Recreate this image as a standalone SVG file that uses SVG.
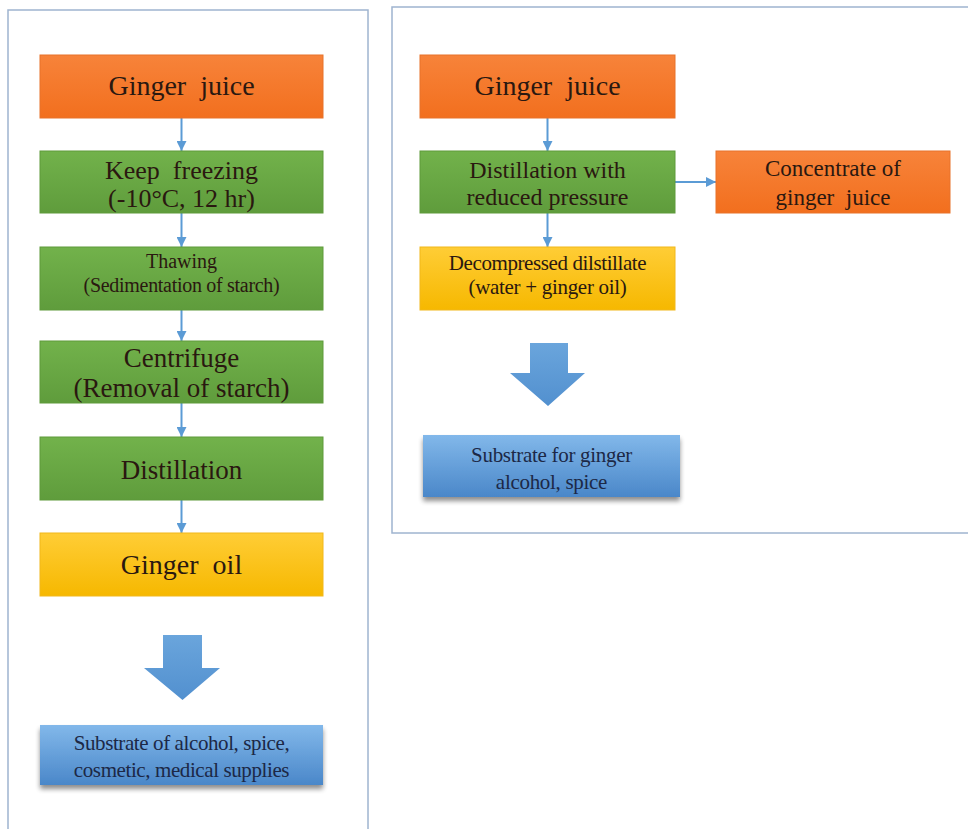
<svg xmlns="http://www.w3.org/2000/svg" width="968" height="829" viewBox="0 0 968 829" font-family="'Liberation Serif', 'Times New Roman', 'DejaVu Serif', serif">
<style>
text{text-anchor:middle;fill:#2a1810}
.blue text{fill:#1c2846}
.frame{fill:#ffffff;stroke:#9fb4cf;stroke-width:1.5}
.conn line{stroke:#5b9bd5;stroke-width:2}
</style>
<defs>
<linearGradient id="gOr" x1="0" y1="0" x2="0" y2="1"><stop offset="0" stop-color="#f7833a"/><stop offset="1" stop-color="#f26f1e"/></linearGradient>
<linearGradient id="gGr" x1="0" y1="0" x2="0" y2="1"><stop offset="0" stop-color="#72b24b"/><stop offset="1" stop-color="#5f9c3c"/></linearGradient>
<linearGradient id="gYe" x1="0" y1="0" x2="0" y2="1"><stop offset="0" stop-color="#ffcd36"/><stop offset="1" stop-color="#f6b800"/></linearGradient>
<linearGradient id="gBl" x1="0" y1="0" x2="0" y2="1"><stop offset="0" stop-color="#82b8ea"/><stop offset="1" stop-color="#4a87c9"/></linearGradient>
<linearGradient id="gArr" x1="0" y1="0" x2="0" y2="1"><stop offset="0" stop-color="#6aa5dc"/><stop offset="1" stop-color="#5290cf"/></linearGradient>
<filter id="sh" x="-10%" y="-20%" width="120%" height="150%"><feGaussianBlur in="SourceAlpha" stdDeviation="2.5"/><feOffset dy="4" result="b"/><feComponentTransfer><feFuncA type="linear" slope="0.45"/></feComponentTransfer><feMerge><feMergeNode/><feMergeNode in="SourceGraphic"/></feMerge></filter>
<marker id="ah" viewBox="0 0 10 10" refX="10" refY="5" markerWidth="5" markerHeight="5" orient="auto" markerUnits="strokeWidth"><path d="M0,0 L10,5 L0,10 z" fill="#5b9bd5"/></marker>
</defs>
<rect width="968" height="829" fill="#ffffff"/>
<g id="frames">
<rect class="frame" x="8" y="10" width="360" height="830"/>
<rect class="frame" x="392" y="7" width="590" height="526"/>
</g>
<g id="connectors" class="conn">
<line x1="181.5" y1="118" x2="181.5" y2="151" marker-end="url(#ah)"/>
<line x1="181.5" y1="213" x2="181.5" y2="247" marker-end="url(#ah)"/>
<line x1="181.5" y1="310" x2="181.5" y2="341" marker-end="url(#ah)"/>
<line x1="181.5" y1="403" x2="181.5" y2="437" marker-end="url(#ah)"/>
<line x1="181.5" y1="500" x2="181.5" y2="533" marker-end="url(#ah)"/>
<line x1="547.5" y1="118" x2="547.5" y2="151" marker-end="url(#ah)"/>
<line x1="547.5" y1="213" x2="547.5" y2="247" marker-end="url(#ah)"/>
<line x1="675" y1="182" x2="716" y2="182" marker-end="url(#ah)"/>
<path d="M163,635 H202 V668 H220 L182.5,700 L144,668 H163 Z" fill="url(#gArr)"/>
<path d="M530,343 H568 V373 H585 L548,406 L510,373 H530 Z" fill="url(#gArr)"/>
</g>
<g id="n-juice-l"><rect x="40" y="55" width="283" height="63" fill="url(#gOr)" stroke="#e8732a" stroke-width="1"/><text x="181.5" y="95" font-size="28">Ginger&#160; juice</text></g>
<g id="n-freeze"><rect x="40" y="151" width="283" height="62" fill="url(#gGr)" stroke="#5e9a3b" stroke-width="1"/><text x="181.5" y="179" font-size="26">Keep&#160; freezing</text><text x="181.5" y="207" font-size="26">(-10°C, 12 hr)</text></g>
<g id="n-thaw"><rect x="40" y="247" width="283" height="63" fill="url(#gGr)" stroke="#5e9a3b" stroke-width="1"/><text x="181.5" y="268" font-size="20">Thawing</text><text x="181.5" y="292" font-size="20" letter-spacing="-0.3">(Sedimentation of starch)</text></g>
<g id="n-centri"><rect x="40" y="341" width="283" height="62" fill="url(#gGr)" stroke="#5e9a3b" stroke-width="1"/><text x="181.5" y="367" font-size="27">Centrifuge</text><text x="181.5" y="397" font-size="27">(Removal of starch)</text></g>
<g id="n-distil"><rect x="40" y="437" width="283" height="63" fill="url(#gGr)" stroke="#5e9a3b" stroke-width="1"/><text x="181.5" y="479" font-size="27">Distillation</text></g>
<g id="n-oil"><rect x="40" y="533" width="283" height="63" fill="url(#gYe)" stroke="#f2b81a" stroke-width="1"/><text x="181.5" y="574" font-size="28">Ginger&#160; oil</text></g>
<g id="n-sub-l" class="blue"><rect x="40" y="725" width="283" height="60" fill="url(#gBl)" filter="url(#sh)"/><text x="181.5" y="750" font-size="21" letter-spacing="-0.4">Substrate of alcohol, spice,</text><text x="181.5" y="777" font-size="21" letter-spacing="-0.4">cosmetic, medical supplies</text></g>
<g id="n-juice-r"><rect x="420" y="55" width="255" height="63" fill="url(#gOr)" stroke="#e8732a" stroke-width="1"/><text x="547.5" y="95" font-size="28">Ginger&#160; juice</text></g>
<g id="n-vacdist"><rect x="420" y="151" width="255" height="62" fill="url(#gGr)" stroke="#5e9a3b" stroke-width="1"/><text x="547.5" y="178" font-size="24">Distillation with</text><text x="547.5" y="205" font-size="24">reduced pressure</text></g>
<g id="n-concentrate"><rect x="716" y="151" width="234" height="62" fill="url(#gOr)" stroke="#e8732a" stroke-width="1"/><text x="833" y="176" font-size="23">Concentrate of</text><text x="833" y="205" font-size="23">ginger&#160; juice</text></g>
<g id="n-decomp"><rect x="420" y="247" width="255" height="63" fill="url(#gYe)" stroke="#f2b81a" stroke-width="1"/><text x="547.5" y="270" font-size="21" letter-spacing="-0.4">Decompressed dilstillate</text><text x="547.5" y="294" font-size="21" letter-spacing="-0.3">(water + ginger oil)</text></g>
<g id="n-sub-r" class="blue"><rect x="423" y="435" width="257" height="62" fill="url(#gBl)" filter="url(#sh)"/><text x="551.5" y="462" font-size="21" letter-spacing="-0.3">Substrate for ginger</text><text x="551.5" y="489" font-size="21" letter-spacing="-0.3">alcohol, spice</text></g>
</svg>
